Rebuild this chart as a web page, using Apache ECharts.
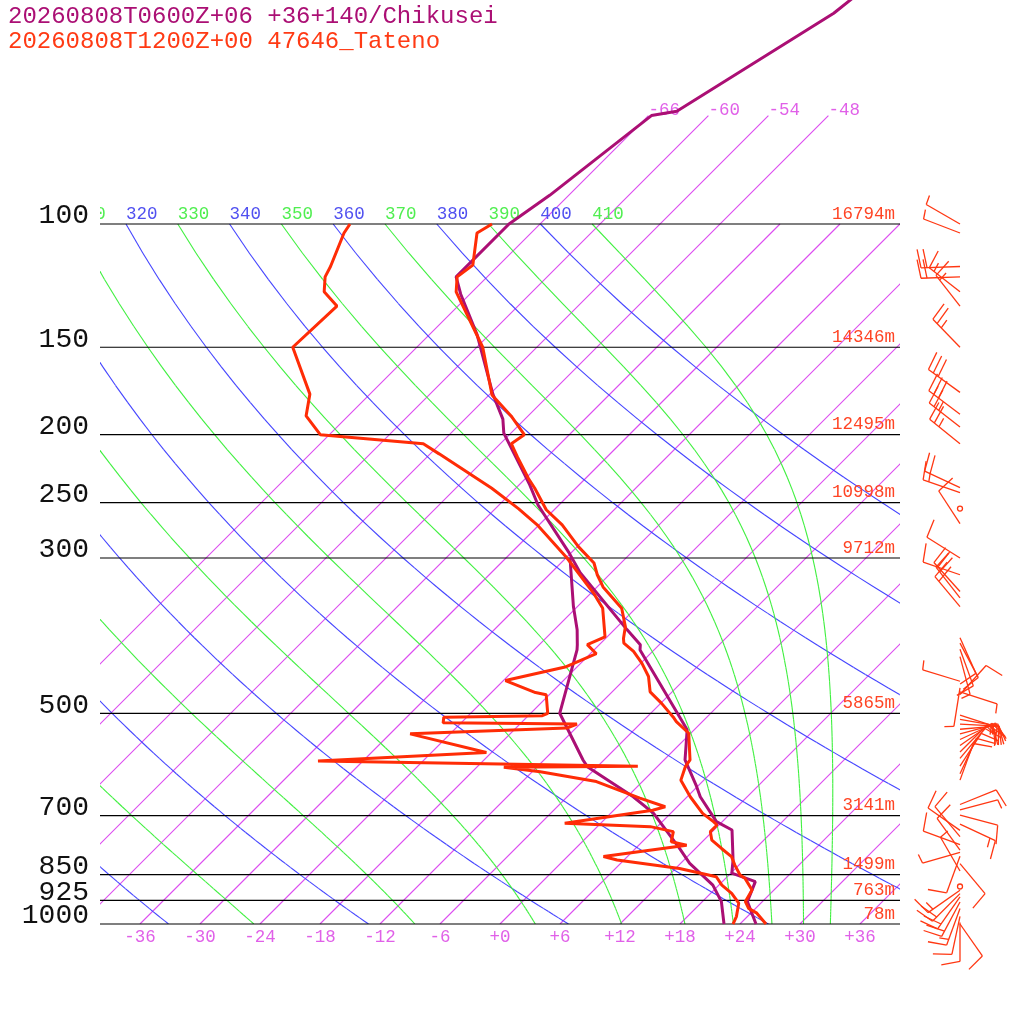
<!DOCTYPE html>
<html>
<head>
<meta charset="utf-8">
<script src="https://cdn.jsdelivr.net/npm/echarts/dist/echarts.min.js"></script>
<style>
  html, body { margin: 0; padding: 0; background: #fff; }
  #chart-container { width: 1024px; height: 1024px; }
</style>
</head>
<body>
<div id="chart-container"></div>
<script>
// ---- data ----
const TITLE_MODEL = "20260808T0600Z+06 +36+140/Chikusei";
const TITLE_OBS = "20260808T1200Z+00 47646_Tateno";

const PRESSURE_LEVELS = [100, 150, 200, 250, 300, 500, 700, 850, 925, 1000];
const LEVEL_HEIGHTS = ["16794m", "14346m", "12495m", "10998m", "9712m", "5865m", "3141m", "1499m", "763m", "78m"];
const TEMP_TICKS = [-36, -30, -24, -18, -12, -6, 0, 6, 12, 18, 24, 30, 36];

const ISOTHERMS = [-66, -60, -54, -48, -42, -36, -30, -24, -18, -12, -6, 0, 6, 12, 18, 24, 30, 36];
const ISOTHERMS_HIGH = [-66, -60, -54, -48]; // go on up to 70 hPa and carry a label
const DRY_ADIABATS = [240, 260, 280, 300, 320, 340, 360, 380, 400];
const MOIST_ADIABATS = [250, 270, 290, 310, 330, 350, 370, 390, 410];

// model (Chikusei) temperature / dew point
const MODEL_P = [1000, 929, 870, 846, 810, 734, 714, 658, 636, 583, 528, 406, 399, 380, 315, 295, 252, 235, 199, 190, 175, 144, 126, 119, 100, 91, 70, 69, 50, 45];
const MODEL_T = [25.6, 22.5, 21.3, 18.1, 16.9, 13.8, 11.4, 7.3, 5.9, 2.1, -0.7, -13.4, -13.9, -16.7, -27.1, -30.2, -38.1, -41.1, -48.7, -50.2, -53.7, -61.2, -66.9, -69.1, -69.1, -67.9, -65.7, -63.6, -57.7, -56.9];
const MODEL_DP_P = [1000, 929, 880, 819, 780, 695, 658, 596, 583, 534, 500, 406, 399, 380, 352, 300];
const MODEL_DP = [22.4, 19.9, 17.4, 12.9, 10.4, 4.3, 0.6, -7.0, -8.1, -12.1, -15.1, -19.7, -20.2, -21.7, -24.4, -29.6];

// observed (Tateno) temperature / dew point
const OBS_P = [1000, 965, 950, 929, 894, 860, 851, 824, 801, 780, 759, 738, 722, 714, 695, 658, 623, 596, 583, 534, 514, 506, 484, 466, 443, 424, 408, 397, 391, 376, 354, 330, 317, 305, 289, 269, 256, 238.5, 231, 215, 206, 200, 188, 175.5, 150, 125, 119, 114.5, 103, 100];
const OBS_T = [26.6, 24.6, 23.3, 22.3, 21.8, 19.9, 19.1, 17.6, 16.4, 14.6, 12.8, 11.8, 11.8, 11.1, 9.2, 6.3, 3.7, 2.8, 2.6, -0.2, -2.6, -3.4, -5.9, -8.2, -9.9, -11.9, -13.9, -15.7, -16.2, -17.2, -19.4, -23.4, -25.2, -26.7, -29.9, -33.7, -36.8, -40.1, -41.7, -45.0, -46.9, -46.5, -49.7, -53.7, -59.4, -67.6, -69.0, -68.6, -71.4, -70.8];
const OBS_DP_P = [1000, 976, 934, 904, 880, 856, 833, 810, 801, 772, 763, 738, 726, 718, 688, 680, 661, 626, 606, 597, 595, 585, 569, 535, 525, 518, 516, 506.5, 504, 500, 470.5, 467, 449, 429, 411, 399, 389, 354, 337, 300, 269, 255, 238.5, 213, 206, 200, 188, 175, 150, 131, 125, 119, 115, 103, 100];
const OBS_DP = [23.3, 22.9, 21.8, 20.1, 18.3, 16.9, 12.4, 5.3, 3.6, 10.8, 8.9, 8.1, 5.3, -3.6, 3.9, 4.8, 1.4, -4.6, -11.2, -15.3, -2.0, -34.5, -18.5, -28.0, -12.9, -12.3, -25.8, -26.3, -16.6, -16.3, -18.3, -19.6, -23.8, -19.1, -17.4, -19.2, -18.2, -21.3, -23.7, -29.9, -36.2, -39.7, -44.4, -53.1, -55.7, -66.9, -70.2, -72.0, -78.4, -78.1, -80.8, -82.2, -82.7, -84.7, -85.0];

// observed winds (knots); speed 0 = calm
const WIND_P = [100, 103, 115, 119, 125, 131, 150, 174, 187, 195, 206, 238, 242, 255, 268, 300, 317, 335, 342, 352, 390, 397, 405, 415, 450, 460, 466, 470, 503, 510, 518, 527, 535, 545, 556, 568, 580, 595, 610, 623, 675, 687, 699, 720, 735, 750, 770, 784, 790, 800, 820, 840, 884, 895, 905, 915, 930, 950, 975, 995, 1000];
const WIND_DIR = [300, 291, 268, 268, 308, 322, 316, 306, 307, 308, 309, 295, 289, 0, 327, 302, 289, 318, 322, 320, 156, 152, 160, 165, 287, 189, 108, 42, 108, 100, 93, 85, 75, 65, 55, 45, 40, 33, 25, 20, 68, 75, 105, 115, 305, 320, 290, 324, 254, 200, 140, 330, 0, 235, 225, 215, 208, 200, 192, 180, 145];
const WIND_SPEED = [5, 5, 20, 20, 15, 15, 25, 30, 30, 25, 25, 20, 15, 0, 10, 10, 10, 20, 20, 20, 10, 10, 10, 5, 5, 5, 5, 10, 15, 15, 20, 20, 15, 15, 15, 10, 10, 10, 10, 10, 10, 5, 10, 15, 10, 10, 10, 10, 5, 10, 10, 5, 0, 15, 20, 20, 20, 15, 10, 10, 10];

// ---- diagram geometry ----
const SKEW = 70;                           // degC shift per decade of pressure (45 degree isotherms)
const P_TOP = 1000 / Math.pow(10, 924 / 700);
const BARB_X = 46;                         // column of wind barbs, right of the diagram
const KAPPA = 0.2857;
const MONO = "Liberation Mono";
const PURPLE = "#ab0f74";
const RED = "#ff2c06";

const skewX = (t, p) => t + SKEW * Math.log10(1000 / p);

// reference lines of the diagram
const STEP_P = [];
for (let p = 100; p <= 1000; p += 10) STEP_P.push(p);

const isothermLines = ISOTHERMS.map((t) => {
  const top = ISOTHERMS_HIGH.includes(t) ? 70 : 100;
  return [[skewX(t, 1000), 1000], [skewX(t, top), top]];
});

const dryLines = DRY_ADIABATS.map((th) =>
  STEP_P.map((p) => [skewX(th * Math.pow(p / 1000, KAPPA) - 273.15, p), p])
);

function moistSlope(T, p) {
  const es = 6.112 * Math.exp((17.67 * (T - 273.15)) / (T - 29.65));
  const rs = (0.622 * es) / (p - es);
  return (287.04 * T + 2.501e6 * rs) / (p * (1005.7 + (2.501e6 * 2.501e6 * rs * 0.622) / (287.04 * T * T)));
}

const moistLines = MOIST_ADIABATS.map((th) => {
  let p = 100;
  let T = th * Math.pow(p / 1000, KAPPA);
  const pts = [[skewX(T - 273.15, p), p]];
  const dp = 2;
  for (let i = 1; i <= 450; i++) {
    const k1 = moistSlope(T, p);
    const k2 = moistSlope(T + k1 * dp, p + dp);
    T += 0.5 * (k1 + k2) * dp;
    p += dp;
    if (i % 5 === 0) pts.push([skewX(T - 273.15, p), p]);
  }
  return pts;
});

function lineSet(lines, color, width, z) {
  return {
    type: "custom",
    clip: true,
    silent: true,
    z: z,
    itemStyle: { color: color },
    data: lines.map((_, i) => [0, 500, i]),
    encode: { x: 0, y: 1 },
    renderItem: (params, api) => {
      const pts = lines[params.dataIndex].map((pt) => api.coord(pt));
      const segs = [];
      for (let k = 1; k < pts.length; k++) {
        segs.push({
          type: "line",
          shape: { x1: pts[k - 1][0], y1: pts[k - 1][1], x2: pts[k][0], y2: pts[k][1] },
          style: { stroke: color, lineWidth: width },
        });
      }
      return { type: "group", children: segs };
    },
  };
}

// labels on the lines
const lineLabels = [];
DRY_ADIABATS.forEach((th) => {
  const t = th * Math.pow(0.1, KAPPA) - 273.15;
  lineLabels.push({ at: [skewX(t, 100), 100], text: String(th), color: "#5050f0", dy: -1 });
});
MOIST_ADIABATS.forEach((th) => {
  const t = th * Math.pow(0.1, KAPPA) - 273.15;
  lineLabels.push({ at: [skewX(t, 100), 100], text: String(th), color: "#50ee50", dy: -1 });
});
ISOTHERMS_HIGH.forEach((t) => {
  lineLabels.push({ at: [skewX(t, 70), 70], text: String(t), color: "#e060e8", dy: 4 });
});

function sounding(P, T, color) {
  return {
    type: "line",
    data: P.map((p, i) => [skewX(T[i], p), p]),
    symbol: "none",
    clip: true,
    z: 6,
    lineStyle: { color: color, width: 3 },
    silent: true,
  };
}

function barb(cx, cy, dir, spd) {
  const stroke = { stroke: "#ff3712", lineWidth: 1.3, fill: "none" };
  if (spd < 2.5) {
    return [{ type: "circle", shape: { cx: cx, cy: cy, r: 2.5 }, style: stroke }];
  }
  const L = 39, FULL = 19, HALF = 9.5, GAP = 6;
  const d = (dir * Math.PI) / 180;
  const ux = Math.sin(d), uy = -Math.cos(d);
  const a = (80 * Math.PI) / 180;
  const fx = ux * Math.cos(a) - uy * Math.sin(a);
  const fy = ux * Math.sin(a) + uy * Math.cos(a);
  const out = [{ type: "line", shape: { x1: cx, y1: cy, x2: cx + L * ux, y2: cy + L * uy }, style: stroke }];
  let rest = Math.round(spd / 5) * 5;
  let pos = L;
  while (rest >= 10) {
    const bx = cx + pos * ux, by = cy + pos * uy;
    out.push({ type: "line", shape: { x1: bx, y1: by, x2: bx + FULL * fx, y2: by + FULL * fy }, style: stroke });
    pos -= GAP;
    rest -= 10;
  }
  if (rest >= 5) {
    const bx = cx + pos * ux, by = cy + pos * uy;
    out.push({ type: "line", shape: { x1: bx, y1: by, x2: bx + HALF * fx, y2: by + HALF * fy }, style: stroke });
  }
  return out;
}

const chart = echarts.init(document.getElementById("chart-container"));

const option = {
  animation: false,
  backgroundColor: "#ffffff",
  title: [
    { text: TITLE_MODEL, left: 8, top: 5, padding: 0, textStyle: { fontFamily: MONO, fontSize: 24, fontWeight: "normal", color: PURPLE } },
    { text: TITLE_OBS, left: 8, top: 30, padding: 0, textStyle: { fontFamily: MONO, fontSize: 24, fontWeight: "normal", color: "#ff3a14" } },
  ],
  grid: { left: 100, right: 124, top: 0, bottom: 100 },
  xAxis: {
    type: "value",
    min: -40,
    max: 40,
    axisLine: { show: false },
    axisTick: { show: false },
    splitLine: { show: false },
    axisLabel: {
      customValues: TEMP_TICKS,
      formatter: (v) => (v >= 0 ? "+" + v : String(v)),
      color: "#e060e8",
      fontFamily: MONO,
      fontSize: 17.5,
      margin: 4,
    },
  },
  yAxis: { type: "log", inverse: true, min: P_TOP, max: 1000, show: false },
  series: [
    lineSet(isothermLines, "#dc4ef0", 1.15, 1),
    lineSet(dryLines, "#4444ff", 1.1, 2),
    lineSet(moistLines, "#3ff03f", 1.1, 2),
    // pressure levels, their labels and heights
    {
      type: "custom",
      clip: false,
      silent: true,
      z: 4,
      data: PRESSURE_LEVELS.map((p, i) => [0, p, i]),
      encode: { x: 0, y: 1 },
      renderItem: (params, api) => {
        const i = params.dataIndex;
        const p = PRESSURE_LEVELS[i];
        const a = api.coord([-40, p]);
        const b = api.coord([40, p]);
        return {
          type: "group",
          children: [
            { type: "line", shape: { x1: a[0], y1: a[1], x2: b[0], y2: b[1] }, style: { stroke: "#000", lineWidth: 1.2 } },
            { type: "text", x: a[0] - 11, y: a[1] - 8, style: { text: String(p), fill: "#111", fontFamily: MONO, fontSize: 28, align: "right", verticalAlign: "middle" } },
            { type: "text", x: b[0] - 5, y: b[1] - 1, style: { text: LEVEL_HEIGHTS[i], fill: "#ff4424", fontFamily: MONO, fontSize: 17.5, align: "right", verticalAlign: "bottom" } },
          ],
        };
      },
    },
    // labels of adiabats and isotherms
    {
      type: "custom",
      clip: true,
      silent: true,
      z: 5,
      data: lineLabels.map((l) => [l.at[0], l.at[1]]),
      encode: { x: 0, y: 1 },
      renderItem: (params, api) => {
        const l = lineLabels[params.dataIndex];
        const c = api.coord(l.at);
        return {
          type: "text",
          x: c[0],
          y: c[1] + l.dy,
          style: { text: l.text, fill: l.color, fontFamily: MONO, fontSize: 17.5, align: "left", verticalAlign: "bottom" },
        };
      },
    },
    sounding(MODEL_P, MODEL_T, PURPLE),
    sounding(MODEL_DP_P, MODEL_DP, PURPLE),
    sounding(OBS_P, OBS_T, RED),
    sounding(OBS_DP_P, OBS_DP, RED),
    // wind barbs
    {
      type: "custom",
      clip: false,
      silent: true,
      z: 7,
      data: WIND_P.map((p, i) => [BARB_X, p, WIND_DIR[i], WIND_SPEED[i]]),
      encode: { x: 0, y: 1 },
      renderItem: (params, api) => {
        const c = api.coord([api.value(0), api.value(1)]);
        return { type: "group", children: barb(c[0], c[1], api.value(2), api.value(3)) };
      },
    },
  ],
};

chart.setOption(option);
</script>
</body>
</html>
